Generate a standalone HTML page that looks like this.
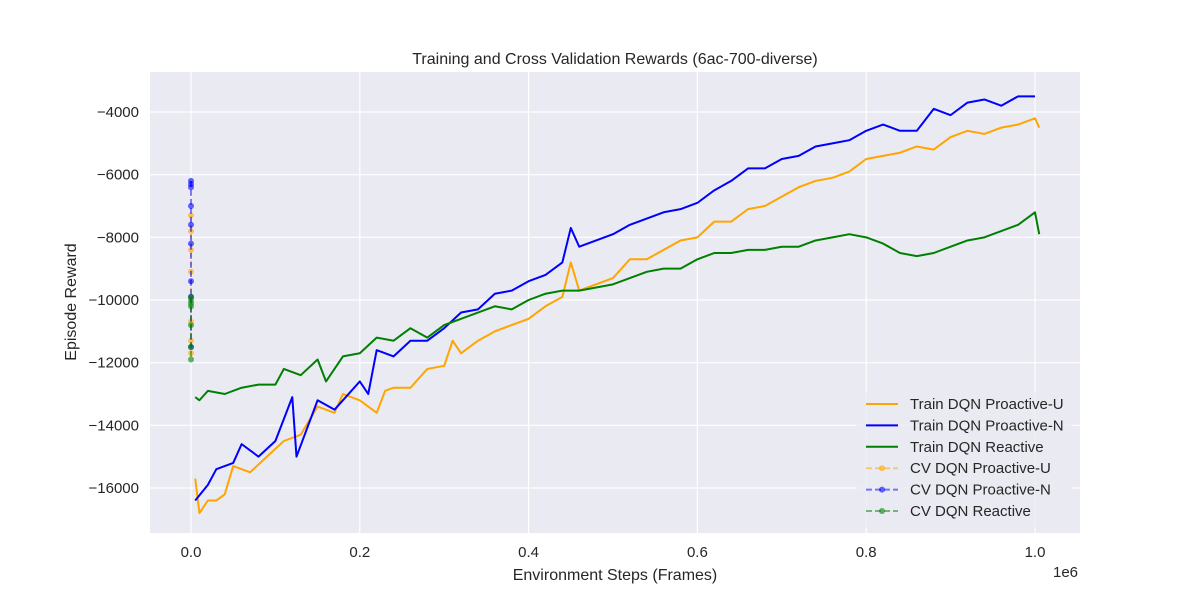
<!DOCTYPE html>
<html><head><meta charset="utf-8"><style>
body{margin:0;background:#fff;font-family:"Liberation Sans","DejaVu Sans",sans-serif}
</style></head><body>
<svg id="chart" width="1200" height="600" xmlns="http://www.w3.org/2000/svg" font-family="Liberation Sans, DejaVu Sans, sans-serif"></svg>
<script>
const trainX_U=[0.005,0.01,0.02,0.03,0.04,0.05,0.07,0.09,0.11,0.13,0.15,0.17,0.18,0.2,0.22,0.23,0.24,0.26,0.28,0.3,0.31,0.32,0.34,0.36,0.38,0.4,0.42,0.44,0.45,0.46,0.48,0.5,0.52,0.54,0.56,0.58,0.6,0.62,0.64,0.66,0.68,0.7,0.72,0.74,0.76,0.78,0.8,0.82,0.84,0.86,0.88,0.9,0.92,0.94,0.96,0.98,1.0,1.005];
const trainU=[-15700,-16800,-16400,-16400,-16200,-15300,-15500,-15000,-14500,-14300,-13400,-13600,-13000,-13200,-13600,-12900,-12800,-12800,-12200,-12100,-11300,-11700,-11300,-11000,-10800,-10600,-10200,-9900,-8800,-9700,-9500,-9300,-8700,-8700,-8400,-8100,-8000,-7500,-7500,-7100,-7000,-6700,-6400,-6200,-6100,-5900,-5500,-5400,-5300,-5100,-5200,-4800,-4600,-4700,-4500,-4400,-4200,-4500];
const trainX_N=[0.005,0.02,0.03,0.05,0.06,0.08,0.1,0.12,0.125,0.15,0.17,0.2,0.21,0.22,0.24,0.26,0.28,0.3,0.32,0.34,0.36,0.38,0.4,0.42,0.44,0.45,0.46,0.5,0.52,0.54,0.56,0.58,0.6,0.62,0.64,0.66,0.68,0.7,0.72,0.74,0.76,0.78,0.8,0.82,0.84,0.86,0.88,0.9,0.92,0.94,0.96,0.98,1.0];
const trainN=[-16400,-15900,-15400,-15200,-14600,-15000,-14500,-13100,-15000,-13200,-13500,-12600,-13000,-11600,-11800,-11300,-11300,-10900,-10400,-10300,-9800,-9700,-9400,-9200,-8800,-7700,-8300,-7900,-7600,-7400,-7200,-7100,-6900,-6500,-6200,-5800,-5800,-5500,-5400,-5100,-5000,-4900,-4600,-4400,-4600,-4600,-3900,-4100,-3700,-3600,-3800,-3500,-3500];
const trainX_R=[0.005,0.01,0.02,0.04,0.06,0.08,0.1,0.11,0.13,0.15,0.16,0.18,0.2,0.22,0.24,0.26,0.28,0.3,0.32,0.34,0.36,0.38,0.4,0.42,0.44,0.46,0.48,0.5,0.52,0.54,0.56,0.58,0.6,0.62,0.64,0.66,0.68,0.7,0.72,0.74,0.76,0.78,0.8,0.82,0.84,0.86,0.88,0.9,0.92,0.94,0.96,0.98,1.0,1.005];
const trainR=[-13100,-13200,-12900,-13000,-12800,-12700,-12700,-12200,-12400,-11900,-12600,-11800,-11700,-11200,-11300,-10900,-11200,-10800,-10600,-10400,-10200,-10300,-10000,-9800,-9700,-9700,-9600,-9500,-9300,-9100,-9000,-9000,-8700,-8500,-8500,-8400,-8400,-8300,-8300,-8100,-8000,-7900,-8000,-8200,-8500,-8600,-8500,-8300,-8100,-8000,-7800,-7600,-7200,-7900];
const cvU=[-7300,-7800,-8400,-9100,-10700,-11300,-11700];
const cvN=[-6200,-6300,-6400,-7000,-7600,-8200,-9400,-9900,-11500];
const cvR=[-9900,-10000,-10100,-10200,-10800,-11500,-11900];
const xTicks=[0,0.2,0.4,0.6,0.8,1.0];
const yTicks=[-16000,-14000,-12000,-10000,-8000,-6000,-4000];

const NS="http://www.w3.org/2000/svg";
const svg=document.getElementById('chart');
const L=150,R=1080,T=72,B=533;
function sx(v){return 191+v*844;}
function sy(v){return 112+(-4000-v)*376/12000;}
function el(tag,attrs,parent){const e=document.createElementNS(NS,tag);for(const k in attrs)e.setAttribute(k,attrs[k]);(parent||svg).appendChild(e);return e;}

const bg=el('rect',{x:L,y:T,width:R-L,height:B-T,fill:'#eaeaf2'});


xTicks.forEach(t=>{
  const g=el('line',{x1:sx(t),x2:sx(t),y1:T,y2:B,stroke:'#fff','stroke-width':1.2});
  
  
  const tx=el('text',{x:sx(t),y:557,'text-anchor':'middle','font-size':15,fill:'#262626'});
  tx.textContent=t.toFixed(1);
  
  
});
yTicks.forEach(t=>{
  const g=el('line',{x1:L,x2:R,y1:sy(t),y2:sy(t),stroke:'#fff','stroke-width':1.2});
  
  
  const tx=el('text',{x:139,y:sy(t)+5,'text-anchor':'end','font-size':15,fill:'#262626'});
  tx.textContent='\u2212'+Math.abs(t);
  
  
});
function line(xs,ys,color,name){
  const p=el('polyline',{points:xs.map((x,i)=>sx(x)+','+sy(ys[i])).join(' '),fill:'none',stroke:color,'stroke-width':2,'stroke-linejoin':'round'});
  
  
}
function cv(vals,color,name){
  const p=el('polyline',{points:vals.map(v=>sx(0)+','+sy(v)).join(' '),fill:'none',stroke:color,'stroke-width':2,'stroke-dasharray':'6 3',opacity:0.5});
  
  
  vals.forEach(v=>{
    const c=el('circle',{cx:sx(0),cy:sy(v),r:3,fill:color,opacity:0.6});
    
    
  });
}
cv(cvU,'orange','cv-proactive-u');
cv(cvN,'blue','cv-proactive-n');
cv(cvR,'green','cv-reactive');
line(trainX_U,trainU,'orange','train-proactive-u-line');
line(trainX_N,trainN,'blue','train-proactive-n-line');
line(trainX_R,trainR,'green','train-reactive-line');

const t=el('text',{x:615,y:64,'text-anchor':'middle','font-size':16,fill:'#262626'});
t.textContent='Training and Cross Validation Rewards (6ac-700-diverse)';


const xl=el('text',{x:615,y:580,'text-anchor':'middle','font-size':16,fill:'#262626'});
xl.textContent='Environment Steps (Frames)';


const xo=el('text',{x:1053,y:577,'font-size':15,fill:'#262626'});
xo.textContent='1e6';


const yl=el('text',{x:76,y:302,'text-anchor':'middle','font-size':16,fill:'#262626',transform:'rotate(-90 76 302)'});
yl.textContent='Episode Reward';



const lg=el('rect',{x:857,y:393,width:215,height:134,rx:4,fill:'#eaeaf2',stroke:'#eaeaf2',opacity:0.8});


const entries=[['Train DQN Proactive-U','orange',false],['Train DQN Proactive-N','blue',false],['Train DQN Reactive','green',false],['CV DQN Proactive-U','orange',true],['CV DQN Proactive-N','blue',true],['CV DQN Reactive','green',true]];
entries.forEach((e,i)=>{
  const y=404+i*21.4;
  const ln=el('line',{x1:866,x2:898,y1:y,y2:y,stroke:e[1],'stroke-width':2,opacity:e[2]?0.5:1,'stroke-dasharray':e[2]?'6 3':'none'});
  
  
  if(e[2]){const c=el('circle',{cx:882,cy:y,r:3,fill:e[1],opacity:0.6});
    
    }
  const tx=el('text',{x:910,y:y+5,'font-size':15,fill:'#262626'});
  tx.textContent=e[0];
  
  
});
</script>
</body></html>
